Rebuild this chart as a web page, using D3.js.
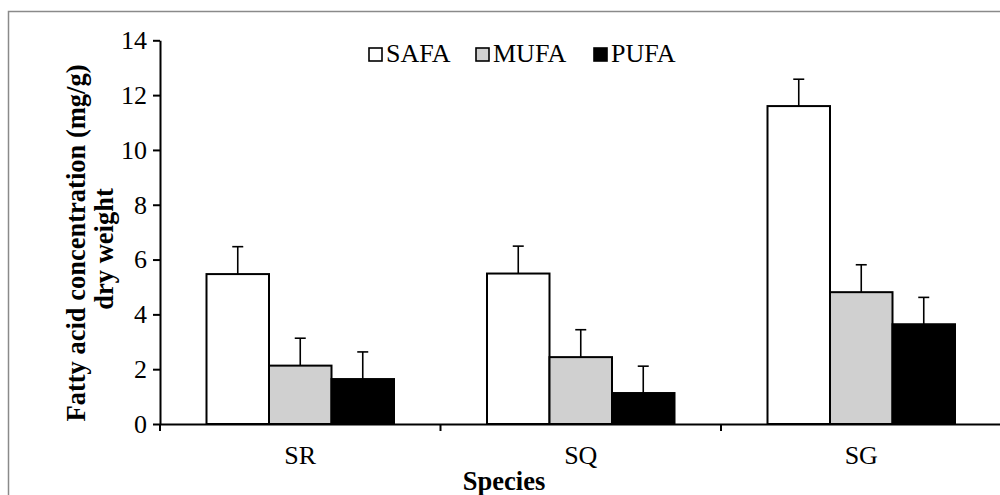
<!DOCTYPE html>
<html>
<head>
<meta charset="utf-8">
<script src="https://cdn.jsdelivr.net/npm/d3@7/dist/d3.min.js"></script>
<style>
  body { margin: 0; background: #fff; }
  svg text { font-family: "Liberation Serif", "Times New Roman", serif; fill: #000; }
</style>
</head>
<body>
<svg width="1000" height="495"></svg>
<script>
// data
const species = ["SR", "SQ", "SG"]
const series = ["SAFA", "MUFA", "PUFA"]
const safa = [5.47, 5.49, 11.6]
const mufa = [2.13, 2.44, 4.81]
const pufa = [1.64, 1.13, 3.64]
const safaErr = [1.0, 1.0, 0.98]
const mufaErr = [1.0, 1.0, 1.0]
const pufaErr = [0.99, 0.98, 0.98]
const yTicks = [0, 2, 4, 6, 8, 10, 12, 14]

const values = [safa, mufa, pufa]
const errors = [safaErr, mufaErr, pufaErr]
const fills = ["#ffffff", "#d0d0d0", "#000000"]

let rows = []
species.forEach(function(sp, i) {
    series.forEach(function(s, j) {
        rows.push({ species: sp, series: s, value: values[j][i], err: errors[j][i], fill: fills[j] })
    })
})

let svg = d3.select('svg')

// outer chart border
svg.append('rect')
    .attr('x', 8.5).attr('y', 11.5)
    .attr('width', 1010).attr('height', 500)
    .attr('fill', 'none')
    .attr('stroke', '#8a8a8a')
    .attr('stroke-width', 1.5)

let x = d3.scaleBand().domain(species).range([160, 1001.5])
let x1 = d3.scaleBand().domain(series).range([46.5, 234])
let y = d3.scaleLinear().domain([0, 14]).range([424, 40.3])

// bars
svg.append('g').selectAll('rect')
    .data(rows)
    .enter()
    .append('rect')
    .attr('x', d => x(d.species) + x1(d.series))
    .attr('y', d => y(d.value))
    .attr('width', x1.bandwidth())
    .attr('height', d => y(0) - y(d.value))
    .attr('fill', d => d.fill)
    .attr('stroke', '#000')
    .attr('stroke-width', 2)

// error bars (upper only)
let eb = svg.append('g').selectAll('g')
    .data(rows)
    .enter()
    .append('g')
    .attr('stroke', '#000')
    .attr('stroke-width', 1.6)
eb.append('line')
    .attr('x1', d => x(d.species) + x1(d.series) + x1.bandwidth() / 2)
    .attr('x2', d => x(d.species) + x1(d.series) + x1.bandwidth() / 2)
    .attr('y1', d => y(d.value))
    .attr('y2', d => y(d.value + d.err))
eb.append('line')
    .attr('x1', d => x(d.species) + x1(d.series) + x1.bandwidth() / 2 - 5.5)
    .attr('x2', d => x(d.species) + x1(d.series) + x1.bandwidth() / 2 + 5.5)
    .attr('y1', d => y(d.value + d.err))
    .attr('y2', d => y(d.value + d.err))

// y axis
let yAxis = svg.append('g')
    .attr('transform', 'translate(160,0)')
    .call(d3.axisLeft(y).tickValues(yTicks).tickSize(7).tickSizeOuter(0).tickPadding(6))
yAxis.attr('font-family', null).attr('font-size', null)
yAxis.selectAll('text').style('font-size', '26px')
yAxis.selectAll('line, path').attr('stroke', '#000').attr('stroke-width', 2)

// x axis: labels centred, ticks between categories
let xAxis = svg.append('g')
    .attr('transform', 'translate(0,424)')
    .call(d3.axisBottom(x).tickSize(0).tickPadding(22).tickSizeOuter(0))
xAxis.attr('font-family', null).attr('font-size', null)
xAxis.selectAll('text').style('font-size', '26px')
xAxis.select('path').attr('stroke', '#000').attr('stroke-width', 2)

svg.append('g').selectAll('line')
    .data(species)
    .enter()
    .append('line')
    .attr('x1', d => x(d))
    .attr('x2', d => x(d))
    .attr('y1', 424)
    .attr('y2', 431)
    .attr('stroke', '#000')
    .attr('stroke-width', 2)

// axis titles
let yTitle = svg.append('text')
    .attr('transform', 'rotate(-90)')
    .attr('text-anchor', 'middle')
    .style('font-size', '26.5px')
    .style('font-weight', 'bold')
yTitle.append('tspan').attr('x', -243).attr('y', 85).text('Fatty acid concentration (mg/g)')
yTitle.append('tspan').attr('x', -249).attr('y', 113).text('dry weight')

svg.append('text')
    .attr('x', 504).attr('y', 490)
    .attr('text-anchor', 'middle')
    .style('font-size', '26.5px')
    .style('font-weight', 'bold')
    .text('Species')

// legend
let legendX = [386, 493, 611]
let legend = svg.append('g').selectAll('g')
    .data(series)
    .enter()
    .append('g')
    .attr('transform', (d, i) => 'translate(' + legendX[i] + ',62)')
legend.append('rect')
    .attr('x', -17).attr('y', -14)
    .attr('width', 13).attr('height', 13)
    .attr('fill', (d, i) => fills[i])
    .attr('stroke', '#000')
    .attr('stroke-width', 1.6)
legend.append('text')
    .style('font-size', '26px')
    .text(d => d)
</script>
</body>
</html>
